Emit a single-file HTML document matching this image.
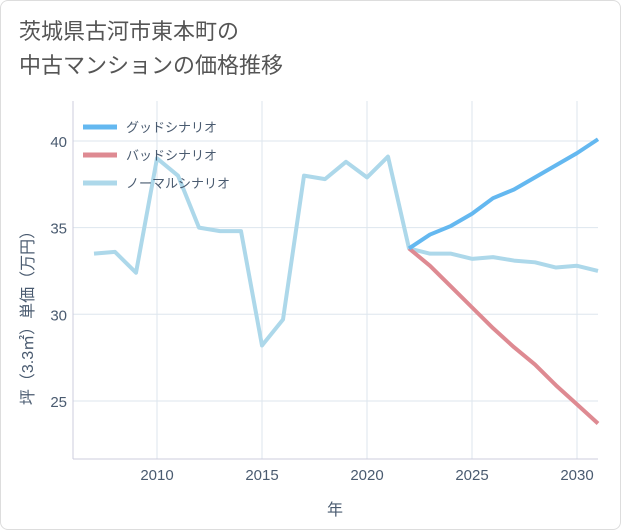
<!DOCTYPE html>
<html><head><meta charset="utf-8"><style>
body{margin:0;background:#fff;}
.wrap{position:relative;width:619px;height:528px;border:1px solid #ddd;border-radius:8px;background:#fff;overflow:hidden;font-family:"Liberation Sans","Noto Sans CJK JP",sans-serif;}
.title{position:absolute;left:18px;top:14px;font-size:22px;line-height:34px;color:#555;}
</style></head><body>
<div class="wrap">
<div class="title">茨城県古河市東本町の<br>中古マンションの価格推移</div>
<svg id="chart" width="621" height="530" style="position:absolute;left:0;top:0"></svg>
</div>
<script>
const years=[2007,2008,2009,2010,2011,2012,2013,2014,2015,2016,2017,2018,2019,2020,2021,2022,2023,2024,2025,2026,2027,2028,2029,2030,2031];
const normalVals=[33.5,33.6,32.4,39.0,38.0,35.0,34.8,34.8,28.2,29.7,38.0,37.8,38.8,37.9,39.1,33.8,33.5,33.5,33.2,33.3,33.1,33.0,32.7,32.8,32.5];
const futureYears=[2022,2023,2024,2025,2026,2027,2028,2029,2030,2031];
const goodVals=[33.8,34.6,35.1,35.8,36.7,37.2,37.9,38.6,39.3,40.1];
const badVals=[33.8,32.8,31.6,30.4,29.2,28.1,27.1,25.9,24.8,23.7];
const xTicks=[2010,2015,2020,2025,2030];
const yTicks=[25,30,35,40];
const NS='http://www.w3.org/2000/svg';
const svg=document.getElementById('chart');
const X0=72,X1=597,Y0=100,Y1=458;
const x=v=>156+(v-2010)*21;
const y=v=>140+(40-v)*17.33;
function mk(t,a){const e=document.createElementNS(NS,t);for(const k in a)e.setAttribute(k,a[k]);svg.appendChild(e);return e;}
let e=mk('rect',{x:X0,y:Y0,width:X1-X0,height:Y1-Y0,fill:'#fff',stroke:'none'});


xTicks.forEach(t=>{
 let g=mk('line',{x1:x(t),x2:x(t),y1:Y0,y2:Y1,stroke:'#dde6ee','stroke-width':1});
 
 
 let l=mk('text',{x:x(t),y:479,'text-anchor':'middle','font-size':15,fill:'#4a5b70'});l.textContent=t;
 
 
});
yTicks.forEach(t=>{
 let g=mk('line',{x1:X0,x2:X1,y1:y(t),y2:y(t),stroke:'#dde6ee','stroke-width':1});
 
 
 let l=mk('text',{x:66,y:y(t)+6,'text-anchor':'end','font-size':15,fill:'#4a5b70'});l.textContent=t;
 
 
});
e=mk('line',{x1:X0,x2:X0,y1:Y0,y2:Y1,stroke:'#ccd',});


e=mk('line',{x1:X0,x2:X1,y1:Y1,y2:Y1,stroke:'#ccd'});


function line(xs,vs,col,name){
 const p=mk('polyline',{points:xs.map((v,i)=>x(v)+','+y(vs[i])).join(' '),fill:'none',stroke:col,'stroke-width':4,'stroke-linejoin':'round'});
 
 
}
line(years,normalVals,'#add8ea','normal-scenario-line');
line(futureYears,badVals,'#de8a92','bad-scenario-line');
line(futureYears,goodVals,'#64b8f0','good-scenario-line');
const leg=[['グッドシナリオ','#64b8f0','legend-good'],['バッドシナリオ','#de8a92','legend-bad'],['ノーマルシナリオ','#add8ea','legend-normal']];
leg.forEach((d,i)=>{
 const yy=126+i*28;
 let l=mk('line',{x1:82,x2:116,y1:yy,y2:yy,stroke:d[1],'stroke-width':5});
 
 
 let t=mk('text',{x:125,y:yy+5,'font-size':13,fill:'#4a5b70'});t.textContent=d[0];
 
 
});
e=mk('text',{x:334,y:514,'text-anchor':'middle','font-size':16,fill:'#4a5b70'});e.textContent='年';


e=mk('text',{x:0,y:0,'text-anchor':'middle','font-size':16,fill:'#4a5b70',transform:'translate(32,313) rotate(-90)'});e.textContent='坪（3.3㎡）単価（万円）';


</script>
</body></html>
